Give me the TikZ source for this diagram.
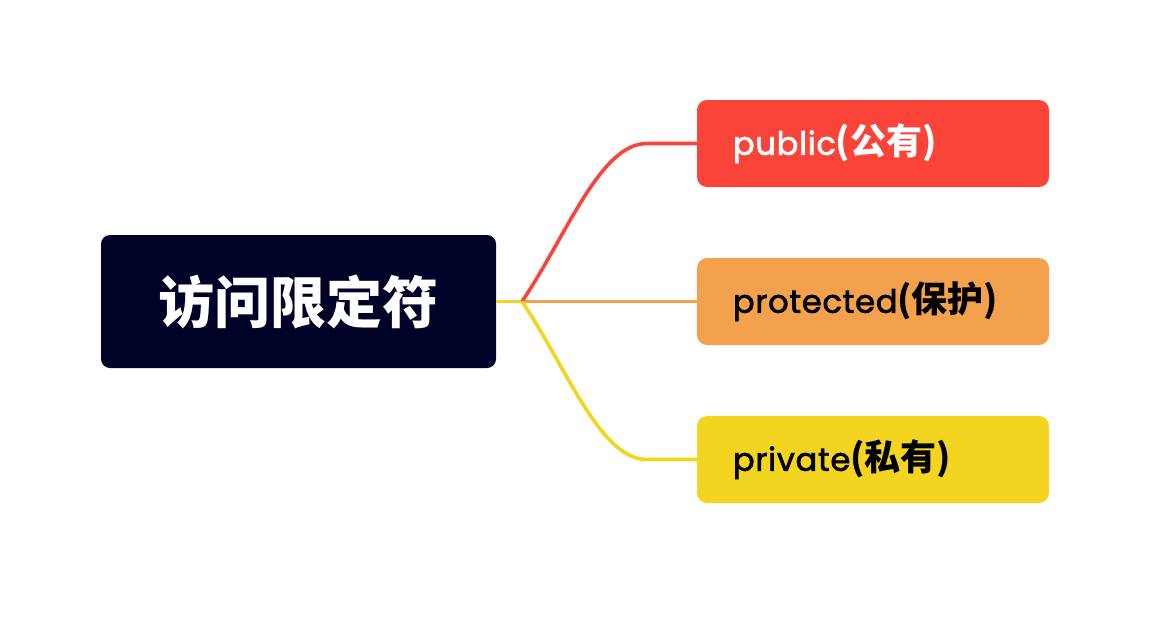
\documentclass[tikz,border=0pt]{standalone}
\usepackage{fontspec}
\setmainfont{Poppins}
\newfontfamily\latmed{Poppins}[FakeBold=2.2, LetterSpace=2.5]
\newfontfamily\cjk{Noto Sans CJK SC}
\newcommand{\cjkpart}[1]{{\fontsize{36}{40}\selectfont\bfseries\cjk #1}}
\definecolor{rootbg}{HTML}{000227}
\definecolor{pubred}{HTML}{FA443A}
\definecolor{protorange}{HTML}{F4A14D}
\definecolor{privyellow}{HTML}{F2D421}

\begin{document}
\begin{tikzpicture}[x=1pt,y=-1pt,
		rootbox/.style={fill=rootbg, rounded corners=9pt, minimum width=395pt, minimum height=133pt, text=white, font=\fontsize{56}{60}\selectfont\bfseries\cjk},
		leafbox/.style={rounded corners=10pt, minimum width=352pt, minimum height=87pt, text width=280pt, inner xsep=36pt, align=left, font=\fontsize{32}{36}\selectfont\latmed},
		link/.style={line width=3.6pt}]
			\useasboundingbox (0,0) rectangle (1150,622);
			\node[rootbox] (root) at (298.5,301.5) {访问限定符};
			\node[leafbox, fill=pubred, text=white] (pub) at (873,143.5) {public\cjkpart{(公有)}};
			\node[leafbox, fill=protorange, text=black] (prot) at (873,301.5) {protected\cjkpart{(保护)}};
			\node[leafbox, fill=privyellow, text=black] (priv) at (873,459.5) {private\cjkpart{(私有)}};
			\coordinate (j) at (522,301.5);
			\coordinate (pubturn) at (647,143.5);
			\coordinate (privturn) at (647,459.5);
			\draw[link, color=privyellow](root.east) -- (j);
			\draw[link, color=protorange](j) -- (prot.west);
			\draw[link, color=pubred](j) .. controls (567,235) and (600,143.5) .. (pubturn) -- (pub.west);
			\draw[link, color=privyellow](j) .. controls (567,368) and (600,459.5) .. (privturn) -- (priv.west);
		\end{tikzpicture}
\end{document}
